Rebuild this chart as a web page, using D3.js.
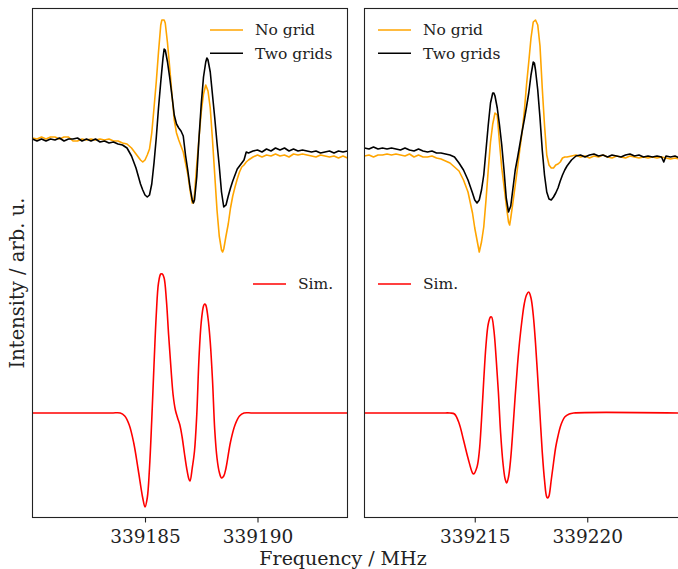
<!DOCTYPE html>
<html><head><meta charset="utf-8">
<script src="https://cdn.jsdelivr.net/npm/d3@7"></script>
<style>body{margin:0;background:#fff}</style>
</head><body>
<svg id="c" width="678" height="569"></svg>
<script>
// ---------------- DATA ----------------
// frequencies are given as offsets (MHz) from each panel's base frequency
const leftBase = 339180;
const rightBase = 339210;
const leftDomain = [339180, 339194];
const rightDomain = [339210.1, 339224.1];
const leftTicks = [339185, 339190];
const rightTicks = [339215, 339220];
const seriesNames = ["No grid", "Two grids", "Sim."];
const seriesColors = ["orange", "black", "red"];

const leftNoGrid = [[0.0,2.75],[0.2,2.74],[0.4,2.76],[0.6,2.74],[0.8,2.76],[1.0,2.76],[1.2,2.74],[1.4,2.76],[1.6,2.76],[1.8,2.72],[2.0,2.72],[2.2,2.74],[2.4,2.73],[2.6,2.74],[2.8,2.73],[3.0,2.74],[3.2,2.73],[3.4,2.74],[3.6,2.72],[3.8,2.72],[4.0,2.70],[4.2,2.69],[4.4,2.65],[4.6,2.59],[4.8,2.53],[4.9,2.51],[5.0,2.53],[5.1,2.58],[5.2,2.64],[5.3,2.80],[5.4,3.05],[5.5,3.31],[5.6,3.61],[5.7,3.88],[5.75,3.93],[5.85,3.93],[5.9,3.90],[6.0,3.70],[6.1,3.45],[6.2,3.18],[6.3,2.93],[6.4,2.80],[6.5,2.73],[6.6,2.67],[6.7,2.61],[6.8,2.50],[6.9,2.39],[7.0,2.23],[7.1,2.10],[7.15,2.10],[7.2,2.19],[7.3,2.48],[7.4,2.75],[7.5,3.01],[7.6,3.19],[7.7,3.28],[7.8,3.22],[7.9,3.05],[8.0,2.73],[8.1,2.38],[8.2,2.03],[8.3,1.77],[8.4,1.63],[8.45,1.61],[8.5,1.64],[8.6,1.77],[8.7,1.89],[8.8,2.05],[8.9,2.17],[9.0,2.26],[9.1,2.34],[9.2,2.41],[9.3,2.46],[9.4,2.48],[9.5,2.51],[9.6,2.53],[9.8,2.56],[10.0,2.58],[10.2,2.56],[10.4,2.58],[10.6,2.57],[10.8,2.59],[11.0,2.57],[11.2,2.58],[11.4,2.56],[11.6,2.59],[11.8,2.58],[12.0,2.59],[12.2,2.58],[12.4,2.57],[12.6,2.56],[12.8,2.58],[13.0,2.57],[13.2,2.56],[13.4,2.57],[13.6,2.55],[13.8,2.57],[14.0,2.55]];

const leftTwoGrids = [[0.0,2.74],[0.2,2.72],[0.4,2.74],[0.6,2.72],[0.8,2.74],[1.0,2.73],[1.2,2.75],[1.4,2.72],[1.6,2.74],[1.8,2.74],[2.0,2.75],[2.2,2.72],[2.4,2.74],[2.6,2.72],[2.8,2.74],[3.0,2.71],[3.2,2.72],[3.4,2.70],[3.6,2.71],[3.8,2.69],[4.0,2.68],[4.2,2.65],[4.4,2.57],[4.5,2.51],[4.6,2.45],[4.7,2.37],[4.8,2.29],[4.9,2.23],[5.0,2.18],[5.1,2.16],[5.2,2.18],[5.3,2.29],[5.4,2.50],[5.5,2.75],[5.6,3.05],[5.7,3.31],[5.8,3.55],[5.85,3.64],[5.9,3.63],[6.0,3.51],[6.1,3.35],[6.2,3.17],[6.3,2.98],[6.4,2.89],[6.5,2.85],[6.6,2.82],[6.7,2.77],[6.8,2.58],[6.9,2.43],[7.0,2.26],[7.1,2.13],[7.15,2.10],[7.2,2.13],[7.3,2.36],[7.4,2.75],[7.5,3.09],[7.6,3.36],[7.7,3.51],[7.75,3.55],[7.8,3.53],[7.9,3.41],[8.0,3.18],[8.1,2.95],[8.2,2.70],[8.3,2.47],[8.4,2.21],[8.5,2.06],[8.6,2.08],[8.7,2.17],[8.8,2.25],[8.9,2.32],[9.0,2.38],[9.1,2.44],[9.2,2.47],[9.3,2.50],[9.4,2.53],[9.5,2.61],[9.6,2.60],[9.8,2.62],[10.0,2.63],[10.2,2.61],[10.4,2.64],[10.6,2.62],[10.8,2.65],[11.0,2.63],[11.2,2.65],[11.4,2.62],[11.6,2.64],[11.8,2.62],[12.0,2.63],[12.2,2.62],[12.4,2.61],[12.6,2.62],[12.8,2.60],[13.0,2.61],[13.2,2.62],[13.4,2.60],[13.6,2.62],[13.8,2.61],[14.0,2.62]];

const leftSim = [[0.0,0],[3.5,0],[3.9,0],[4.1,-0.03],[4.3,-0.12],[4.5,-0.30],[4.7,-0.57],[4.9,-0.85],[5.0,-0.94],[5.1,-0.85],[5.2,-0.55],[5.3,-0.07],[5.4,0.48],[5.5,0.98],[5.6,1.30],[5.7,1.39],[5.77,1.39],[5.85,1.35],[5.95,1.13],[6.05,0.78],[6.15,0.46],[6.25,0.18],[6.35,0.03],[6.45,-0.05],[6.55,-0.12],[6.65,-0.24],[6.75,-0.40],[6.85,-0.55],[6.95,-0.66],[7.0,-0.68],[7.1,-0.55],[7.2,-0.38],[7.3,-0.02],[7.4,0.55],[7.5,0.91],[7.6,1.07],[7.65,1.09],[7.7,1.08],[7.8,0.95],[7.9,0.71],[8.0,0.33],[8.1,-0.17],[8.2,-0.45],[8.3,-0.59],[8.4,-0.65],[8.5,-0.63],[8.6,-0.55],[8.8,-0.29],[9.0,-0.12],[9.2,-0.03],[9.4,0],[9.8,0],[14.0,0]];

const rightNoGrid = [[0.1,2.57],[0.3,2.58],[0.5,2.56],[0.7,2.58],[0.9,2.58],[1.1,2.59],[1.3,2.58],[1.5,2.59],[1.7,2.58],[1.9,2.57],[2.1,2.59],[2.3,2.56],[2.5,2.58],[2.7,2.56],[2.9,2.56],[3.1,2.57],[3.3,2.55],[3.5,2.54],[3.7,2.52],[3.9,2.50],[4.1,2.46],[4.3,2.42],[4.5,2.33],[4.7,2.21],[4.9,2.00],[5.0,1.85],[5.1,1.73],[5.2,1.61],[5.3,1.71],[5.4,1.86],[5.5,2.13],[5.6,2.43],[5.7,2.71],[5.8,2.89],[5.9,3.00],[6.0,2.98],[6.1,2.70],[6.2,2.45],[6.3,2.27],[6.4,2.08],[6.5,1.91],[6.55,1.88],[6.6,1.95],[6.7,2.11],[6.8,2.28],[6.9,2.45],[7.0,2.63],[7.1,2.80],[7.2,3.01],[7.3,3.28],[7.4,3.51],[7.5,3.75],[7.6,3.91],[7.7,3.93],[7.8,3.88],[7.9,3.67],[8.0,3.25],[8.1,2.88],[8.2,2.58],[8.3,2.48],[8.4,2.45],[8.5,2.45],[8.6,2.48],[8.7,2.49],[8.8,2.51],[8.9,2.55],[9.0,2.56],[9.1,2.56],[9.3,2.57],[9.5,2.58],[9.7,2.56],[9.9,2.57],[10.1,2.55],[10.3,2.57],[10.5,2.56],[10.7,2.58],[10.9,2.56],[11.1,2.55],[11.3,2.57],[11.5,2.56],[11.7,2.55],[11.9,2.57],[12.1,2.56],[12.3,2.55],[12.5,2.56],[12.7,2.55],[12.9,2.56],[13.1,2.55],[13.3,2.56],[13.5,2.55],[13.7,2.54],[13.9,2.55],[14.1,2.54]];

const rightTwoGrids = [[0.1,2.65],[0.3,2.64],[0.5,2.66],[0.7,2.64],[0.9,2.65],[1.1,2.64],[1.3,2.65],[1.5,2.64],[1.7,2.63],[1.9,2.65],[2.1,2.63],[2.3,2.62],[2.5,2.64],[2.7,2.62],[2.9,2.61],[3.1,2.62],[3.3,2.60],[3.5,2.60],[3.7,2.59],[3.9,2.58],[4.1,2.56],[4.3,2.50],[4.5,2.43],[4.7,2.33],[4.9,2.20],[5.0,2.13],[5.1,2.10],[5.2,2.13],[5.3,2.23],[5.4,2.38],[5.5,2.63],[5.6,2.88],[5.7,3.10],[5.8,3.20],[5.85,3.20],[5.9,3.17],[6.0,3.05],[6.1,2.88],[6.2,2.68],[6.3,2.43],[6.4,2.15],[6.5,2.01],[6.6,2.07],[6.7,2.25],[6.8,2.43],[6.9,2.55],[7.0,2.68],[7.1,2.81],[7.2,2.93],[7.3,3.06],[7.4,3.20],[7.5,3.38],[7.6,3.51],[7.65,3.50],[7.7,3.43],[7.8,3.23],[7.9,2.95],[8.0,2.63],[8.1,2.38],[8.2,2.21],[8.3,2.14],[8.4,2.13],[8.5,2.16],[8.6,2.20],[8.7,2.25],[8.8,2.32],[8.9,2.38],[9.0,2.43],[9.1,2.47],[9.2,2.50],[9.3,2.53],[9.4,2.55],[9.5,2.57],[9.7,2.58],[9.9,2.56],[10.1,2.58],[10.3,2.59],[10.5,2.57],[10.7,2.58],[10.9,2.56],[11.1,2.58],[11.3,2.57],[11.5,2.56],[11.7,2.58],[11.9,2.59],[12.1,2.57],[12.3,2.58],[12.5,2.56],[12.7,2.57],[12.9,2.56],[13.1,2.57],[13.3,2.56],[13.4,2.51],[13.5,2.57],[13.7,2.56],[13.9,2.57],[14.1,2.55]];

const rightSim = [[0.1,0],[3.5,0],[3.9,0],[4.1,-0.01],[4.3,-0.10],[4.5,-0.27],[4.7,-0.45],[4.9,-0.60],[4.95,-0.61],[5.1,-0.54],[5.2,-0.39],[5.3,-0.07],[5.4,0.33],[5.5,0.68],[5.6,0.89],[5.7,0.96],[5.75,0.96],[5.85,0.83],[5.95,0.55],[6.05,0.21],[6.15,-0.20],[6.25,-0.49],[6.35,-0.66],[6.42,-0.70],[6.5,-0.64],[6.6,-0.45],[6.7,-0.15],[6.8,0.18],[6.9,0.48],[7.0,0.73],[7.1,0.93],[7.2,1.09],[7.3,1.18],[7.4,1.21],[7.5,1.15],[7.6,0.98],[7.7,0.70],[7.8,0.35],[7.9,-0.02],[8.0,-0.39],[8.1,-0.67],[8.2,-0.84],[8.25,-0.85],[8.3,-0.83],[8.4,-0.67],[8.5,-0.50],[8.6,-0.34],[8.7,-0.23],[8.8,-0.14],[8.9,-0.08],[9.0,-0.04],[9.2,-0.01],[9.4,0],[14.1,0]];

// ---------------- CHART ----------------
const svg = d3.select("#c");
const FONT = "'DejaVu Serif', serif";
const y = d3.scaleLinear().domain([-1.045, 4.045]).range([517.5, 8.5]);

const panels = [
  {id:"L", x0:32.5, x1:347.5, domain:leftDomain, ticks:leftTicks, base:leftBase,
   series:[leftNoGrid, leftTwoGrids, leftSim], legendLineX:210, legendTextX:255, simLineX:253, simTextX:298},
  {id:"R", x0:364.5, x1:679.5, domain:rightDomain, ticks:rightTicks, base:rightBase,
   series:[rightNoGrid, rightTwoGrids, rightSim], legendLineX:378, legendTextX:423, simLineX:378, simTextX:423}
];

panels.forEach(p => {
  const x = d3.scaleLinear().domain(p.domain).range([p.x0, p.x1]);
  const g = svg.append("g");
  g.append("clipPath").attr("id", "clip" + p.id)
    .append("rect").attr("x", p.x0).attr("y", y.range()[1]).attr("width", p.x1 - p.x0).attr("height", y.range()[0] - y.range()[1]);
  const plot = g.append("g").attr("clip-path", `url(#clip${p.id})`);
  p.series.forEach((s, i) => {
    const line = d3.line()
      .x(d => x(p.base + d[0]))
      .y(d => y(d[1]))
      .curve(i === 2 ? d3.curveCatmullRom.alpha(0.5) : d3.curveLinear);
    plot.append("path").datum(s)
      .attr("fill", "none").attr("stroke", seriesColors[i])
      .attr("stroke-width", 1.6).attr("stroke-linejoin", "round")
      .attr("d", line);
  });
  // frame
  g.append("rect").attr("x", p.x0).attr("y", y.range()[1])
    .attr("width", p.x1 - p.x0).attr("height", y.range()[0] - y.range()[1])
    .attr("fill", "none").attr("stroke", "#222").attr("stroke-width", 1.1);
  // x axis
  const ax = g.append("g").attr("transform", `translate(0,${y.range()[0]})`)
    .call(d3.axisBottom(x).tickValues(p.ticks).tickFormat(d3.format("d")).tickSize(5).tickPadding(7));
  ax.select(".domain").remove();
  ax.selectAll("line").attr("stroke", "#222").attr("stroke-width", 1.1);
  ax.selectAll("text").attr("font-family", FONT).attr("font-size", 18.5).attr("fill", "#222");

  // legends
  const leg = g.append("g");
  [[0, 30, 35], [1, 53.3, 58.5]].forEach(([i, ly, ty]) => {
    leg.append("line").attr("x1", p.legendLineX).attr("x2", p.legendLineX + 33)
      .attr("y1", ly).attr("y2", ly).attr("stroke", seriesColors[i]).attr("stroke-width", 1.6);
    leg.append("text").attr("x", p.legendTextX).attr("y", ty).text(seriesNames[i])
      .attr("font-family", FONT).attr("font-size", 15.5).attr("fill", "#222");
  });
  leg.append("line").attr("x1", p.simLineX).attr("x2", p.simLineX + 33)
    .attr("y1", 284).attr("y2", 284).attr("stroke", seriesColors[2]).attr("stroke-width", 1.6);
  leg.append("text").attr("x", p.simTextX).attr("y", 289.3).text(seriesNames[2])
    .attr("font-family", FONT).attr("font-size", 15.5).attr("fill", "#222");
});

// axis labels
svg.append("text").attr("x", 343).attr("y", 565).attr("text-anchor", "middle")
  .attr("font-family", FONT).attr("font-size", 19).attr("fill", "#222")
  .text("Frequency / MHz");
svg.append("text").attr("transform", "translate(23.5,283) rotate(-90)").attr("text-anchor", "middle")
  .attr("font-family", FONT).attr("font-size", 19.5).attr("fill", "#222")
  .text("Intensity / arb. u.");
</script>
</body></html>
